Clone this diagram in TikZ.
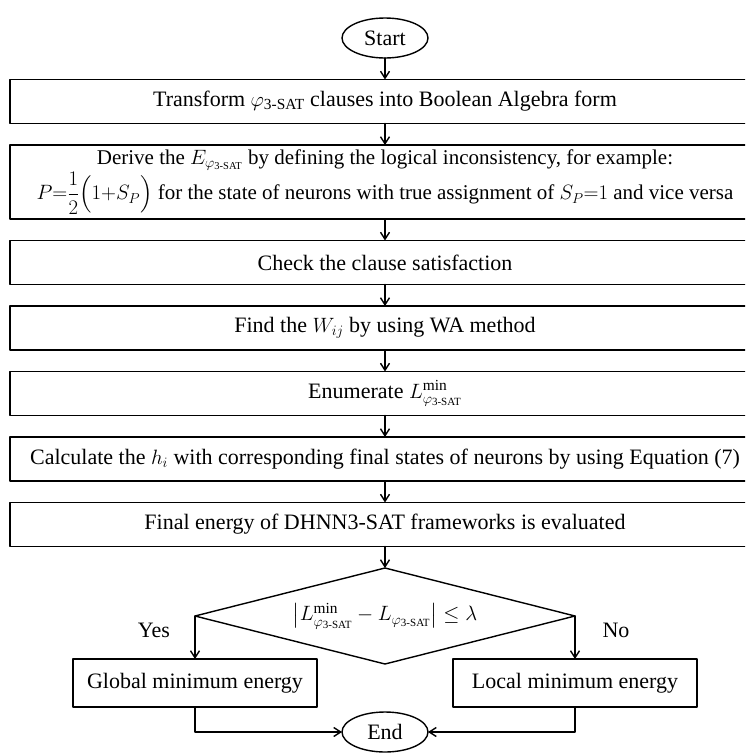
\documentclass[tikz,border=0pt]{standalone}
\usepackage{amsmath}
\usepackage{fontspec}
\setmainfont{Liberation Serif}
\usetikzlibrary{arrows.meta,positioning,shapes.geometric}
\newcommand{\PhiSat}{\varphi_{\text{3-SAT}}}

\begin{document}
\begin{tikzpicture}[line cap=round,line join=round,>={Straight Barb[length=7pt,width=9pt]}
  ,x=1pt,y=-1pt,font=\fontsize{22}{25}\selectfont,node distance=21.5pt
  ,stepbox/.style={draw,line width=1.4pt,outer sep=0pt,minimum width=750pt,minimum height=44pt,inner sep=0pt,align=center}
  ,endbox/.style={draw,line width=1.4pt,outer sep=0pt,minimum width=244pt,minimum height=48pt,inner sep=0pt}
  ,terminal/.style={draw,ellipse,line width=1.4pt,outer sep=0pt,minimum width=86pt,minimum height=40pt,inner sep=0pt}
  ,decision/.style={draw,diamond,line width=1.4pt,outer sep=0pt,minimum width=380pt,minimum height=96pt,inner sep=0pt}
  ,link/.style={->,line width=1.4pt}]
  \path[use as bounding box,clip] (0,0) rectangle (745,753);
  \node[terminal] (start) at (385,38) {Start};
  \node[stepbox,below=of start] (trans) {Transform $\PhiSat$ clauses into Boolean Algebra form};
  \node[stepbox,below=of trans,minimum height=74pt,font=\fontsize{21}{24}\selectfont] (derive) {Derive the $E_{\PhiSat}$ by defining the logical inconsistency, for example:\\[1pt]
    $P{=}\dfrac{1}{2}\Bigl(1{+}S_P\Bigr)$ for the state of neurons with true assignment of $S_P{=}1$ and vice versa};
  \node[stepbox,below=of derive] (check) {Check the clause satisfaction};
  \node[stepbox,below=of check] (wij) {Find the $W_{ij}$ by using WA method};
  \node[stepbox,below=of wij] (enum) {Enumerate $L^{\min}_{\PhiSat}$};
  \node[stepbox,below=of enum] (calc) {Calculate the $h_i$ with corresponding final states of neurons by using Equation (7)};
  \node[stepbox,below=of calc] (eval) {Final energy of DHNN3-SAT frameworks is evaluated};
  \node[decision,below=of eval] (dec) {\makebox[0pt]{$\left|L^{\min}_{\PhiSat}-L_{\PhiSat}\right|\le\lambda$}};
  \node[endbox] (glob) at (195,683) {Global minimum energy};
  \node[endbox] (local) at (575,683) {Local minimum energy};
  \node[terminal] (end) at (385,732) {End};
  \node (yes) at (154,630) {Yes};
  \node (no) at (616,630) {No};
  % main chain
  \draw[link] (start) -- (trans);
  \draw[link] (trans) -- (derive);
  \draw[link] (derive) -- (check);
  \draw[link] (check) -- (wij);
  \draw[link] (wij) -- (enum);
  \draw[link] (enum) -- (calc);
  \draw[link] (calc) -- (eval);
  \draw[link] (eval) -- (dec);
  % branches
  \draw[link] (dec.west) -- (dec.west |- glob.north);
  \draw[link] (dec.east) -- (dec.east |- local.north);
  \draw[link] (glob.south) |- (end.west);
  \draw[link] (local.south) |- (end.east);
\end{tikzpicture}
\end{document}
